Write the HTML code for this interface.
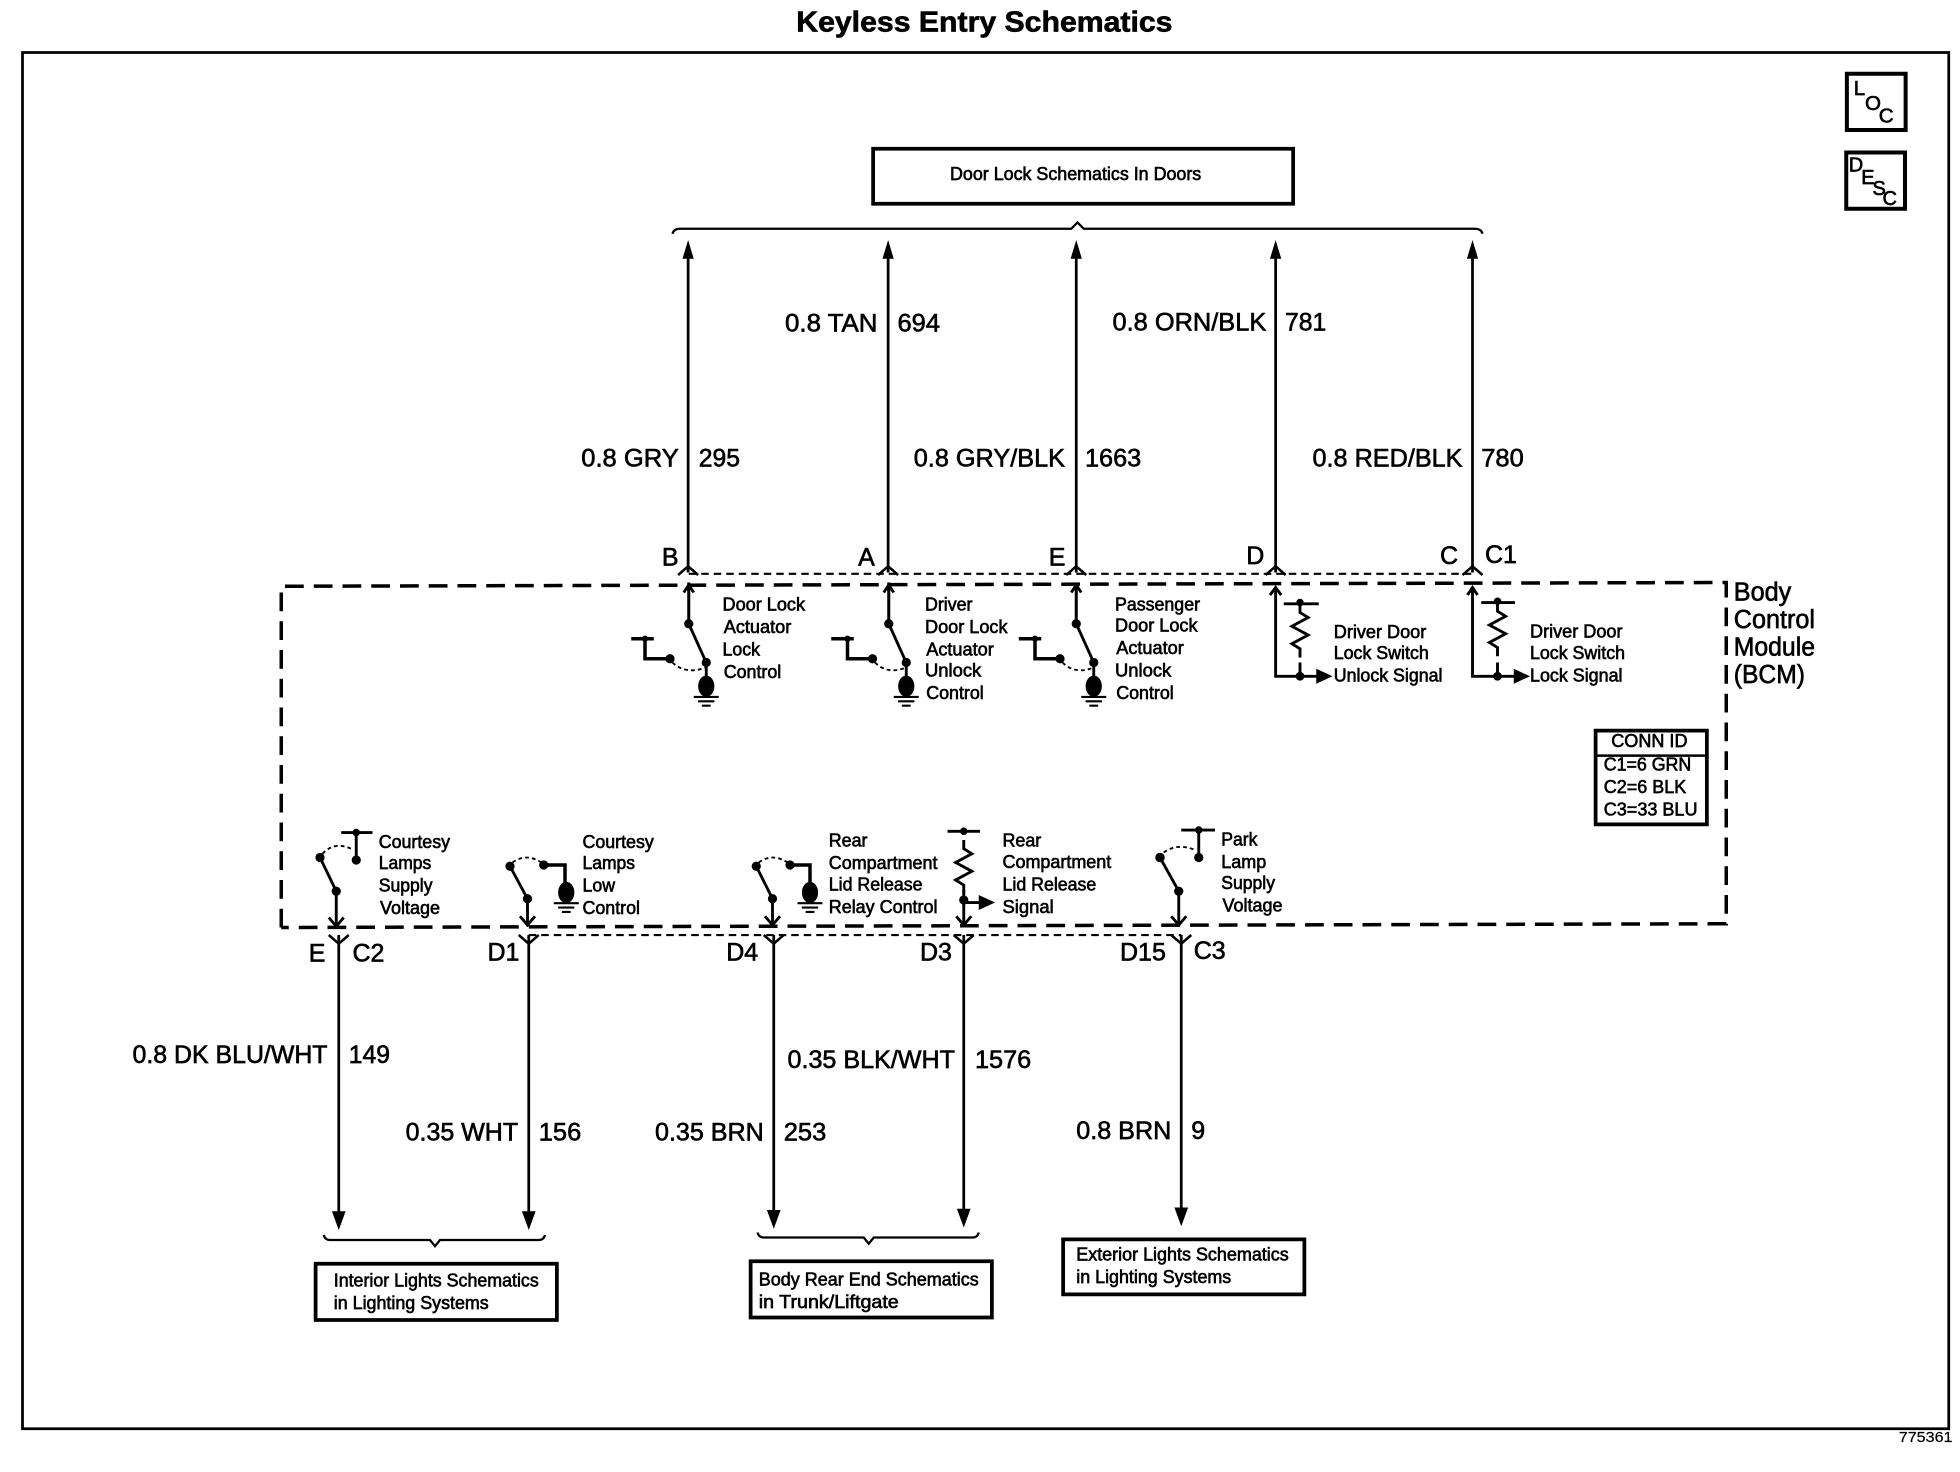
<!DOCTYPE html>
<html lang="en"><head><meta charset="utf-8"><title>Keyless Entry Schematics</title>
<style>html,body{margin:0;padding:0;background:#fff}svg{display:block}
text{font-family:"Liberation Sans",Arial,sans-serif;fill:#000;stroke:#000;stroke-width:.5}
</style></head><body>
<svg xmlns="http://www.w3.org/2000/svg" width="1960" height="1472" viewBox="0 0 1568 1177.6">
<defs>
<g id="gnd"><ellipse cx="0" cy="0" rx="6.500" ry="8.500" fill="#000"/><path d="M-10 8.500H10M-6.500 12H6.500M-3.500 15.500H3.500" stroke="#000" stroke-width="1.700" fill="none"/></g>
<path id="res" d="M0 0v7l6.500 4-13 7 13 7-13 7 6.500 4v7" fill="none" stroke="#000" stroke-width="2.300"/>
<path id="up" d="M-4.500 15L0 0L4.500 15Z" fill="#000"/>
<path id="dn" d="M-5.500 -15L0 0L5.500 -15Z" fill="#000"/>
<path id="fork" d="M-8 7L0 0L8 7" fill="none" stroke="#000" stroke-width="2"/>
<path id="forkd" d="M-8 -7L0 0L8 -7" fill="none" stroke="#000" stroke-width="2"/>
</defs>

<text x="637" y="25" font-size="23" font-weight="bold" textLength="301" lengthAdjust="spacingAndGlyphs">Keyless Entry Schematics</text>
<rect x="18" y="42" width="1541" height="1101" fill="none" stroke="#000" stroke-width="2.200"/>
<text x="1519" y="1153.500" font-size="11.500" textLength="43" lengthAdjust="spacingAndGlyphs" style="stroke-width:.15">775361</text>

<!-- LOC DESC -->
<rect x="1477.500" y="59" width="47" height="45" fill="none" stroke="#000" stroke-width="3.200"/>
<g font-size="16.500">
<text x="1483" y="76">L</text><text x="1492" y="88">O</text><text x="1503" y="98">C</text>
</g>
<rect x="1477" y="122" width="47" height="45" fill="none" stroke="#000" stroke-width="3.200"/>
<g font-size="16">
<text x="1479" y="137">D</text><text x="1489" y="147">E</text><text x="1498" y="156">S</text><text x="1506" y="164">C</text>
</g>

<!-- top box -->
<rect x="698.500" y="119" width="336" height="44" fill="none" stroke="#000" stroke-width="3"/>
<text x="760" y="144" font-size="14.500" textLength="201" lengthAdjust="spacingAndGlyphs">Door Lock Schematics In Doors</text>
<path d="M538 187Q539 183 544 183H857L862 178L867 183H1180Q1185 183 1186 187" fill="none" stroke="#000" stroke-width="1.800"/>

<!-- top wires -->
<g stroke="#000" stroke-width="2.200" fill="none">
<path d="M550.500 200V458M710.500 200V458M861 200V458M1020.500 200V458M1178 200V458"/>
<path d="M551 459H1178" stroke-width="1.700" stroke-dasharray="6 4"/>
<path d="M551 466V499M711 466V499M861 466V499"/>
</g>
<use href="#up" x="550.500" y="192"/><use href="#up" x="710.500" y="192"/><use href="#up" x="861" y="192"/><use href="#up" x="1020.500" y="192"/><use href="#up" x="1178" y="192"/>
<use href="#fork" x="550.500" y="453"/><use href="#fork" x="710.500" y="453"/><use href="#fork" x="861" y="453"/><use href="#fork" x="1020.500" y="453"/><use href="#fork" x="1178" y="453"/>

<!-- BCM dashed -->
<path d="M225 742V469L1381 466V739L225 742" fill="none" stroke="#000" stroke-width="2.800" stroke-dasharray="15 8"/>
<text x="1387" y="480.500" font-size="20.500" textLength="46" lengthAdjust="spacingAndGlyphs">Body</text>
<text x="1387" y="502.500" font-size="20.500" textLength="65" lengthAdjust="spacingAndGlyphs">Control</text>
<text x="1387" y="524.500" font-size="20.500" textLength="65" lengthAdjust="spacingAndGlyphs">Module</text>
<text x="1387" y="546.500" font-size="20.500" textLength="57" lengthAdjust="spacingAndGlyphs">(BCM)</text>

<!-- wire labels top -->
<g font-size="20" transform="translate(0,-.7)">
<text x="465" y="374" textLength="78" lengthAdjust="spacingAndGlyphs">0.8 GRY</text>
<text x="559" y="374" textLength="33" lengthAdjust="spacingAndGlyphs">295</text>
<text x="628" y="266" textLength="74" lengthAdjust="spacingAndGlyphs">0.8 TAN</text>
<text x="718" y="266" textLength="34" lengthAdjust="spacingAndGlyphs">694</text>
<text x="731" y="374" textLength="121" lengthAdjust="spacingAndGlyphs">0.8 GRY/BLK</text>
<text x="868" y="374" textLength="45" lengthAdjust="spacingAndGlyphs">1663</text>
<text x="890" y="265" textLength="123" lengthAdjust="spacingAndGlyphs">0.8 ORN/BLK</text>
<text x="1028" y="265" textLength="33" lengthAdjust="spacingAndGlyphs">781</text>
<text x="1050" y="374" textLength="120" lengthAdjust="spacingAndGlyphs">0.8 RED/BLK</text>
<text x="1185" y="374" textLength="34" lengthAdjust="spacingAndGlyphs">780</text>
<text x="529.500" y="453">B</text><text x="686.500" y="453">A</text><text x="839" y="453">E</text><text x="997" y="452">D</text><text x="1152" y="452">C</text><text x="1188" y="451">C1</text>
<text x="247" y="770">E</text><text x="282" y="770">C2</text><text x="390" y="769">D1</text><text x="581" y="769">D4</text><text x="736" y="769">D3</text><text x="896" y="769">D15</text><text x="955" y="768">C3</text>
<text x="106" y="851" textLength="156" lengthAdjust="spacingAndGlyphs">0.8 DK BLU/WHT</text>
<text x="279" y="851" textLength="33" lengthAdjust="spacingAndGlyphs">149</text>
<text x="324.500" y="913" textLength="90" lengthAdjust="spacingAndGlyphs">0.35 WHT</text>
<text x="431" y="913" textLength="34" lengthAdjust="spacingAndGlyphs">156</text>
<text x="524" y="913" textLength="87" lengthAdjust="spacingAndGlyphs">0.35 BRN</text>
<text x="627" y="913" textLength="34" lengthAdjust="spacingAndGlyphs">253</text>
<text x="630" y="855" textLength="134" lengthAdjust="spacingAndGlyphs">0.35 BLK/WHT</text>
<text x="780" y="855" textLength="45" lengthAdjust="spacingAndGlyphs">1576</text>
<text x="861" y="912" textLength="76" lengthAdjust="spacingAndGlyphs">0.8 BRN</text>
<text x="953" y="912">9</text>
</g>

<!-- lock switches -->
<g stroke="#000" fill="none" stroke-width="2.300">
<path d="M551 466V499L565 530V549"/>
<path d="M505 511H523M516 511V527H536" stroke-width="2.800"/>
<path d="M538 530Q548 540 565 534" stroke-width="1.500" stroke-dasharray="3 2.500"/>
<path d="M547 474L551 468L555 474"/>
</g>
<g fill="#000"><circle cx="551" cy="499" r="3.700"/><circle cx="565" cy="530" r="3.700"/><circle cx="536" cy="527" r="3.700"/><circle cx="516" cy="511" r="2.500"/></g>
<use href="#gnd" x="565" y="549"/>

<g stroke="#000" fill="none" stroke-width="2.300">
<path d="M711 466V499L725 530V549"/>
<path d="M665 511H683M678 511V527H698" stroke-width="2.800"/>
<path d="M700 530Q710 540 725 534" stroke-width="1.500" stroke-dasharray="3 2.500"/>
<path d="M707 474L711 468L715 474"/>
</g>
<g fill="#000"><circle cx="711" cy="499" r="3.700"/><circle cx="725" cy="530" r="3.700"/><circle cx="698" cy="527" r="3.700"/><circle cx="678" cy="511" r="2.500"/></g>
<use href="#gnd" x="725" y="549"/>

<g stroke="#000" fill="none" stroke-width="2.300">
<path d="M861 466V499L875 530V549"/>
<path d="M815 511H833M828 511V527H848" stroke-width="2.800"/>
<path d="M850 530Q860 540 875 534" stroke-width="1.500" stroke-dasharray="3 2.500"/>
<path d="M857 474L861 468L865 474"/>
</g>
<g fill="#000"><circle cx="861" cy="499" r="3.700"/><circle cx="875" cy="530" r="3.700"/><circle cx="848" cy="527" r="3.700"/><circle cx="828" cy="511" r="2.500"/></g>
<use href="#gnd" x="875" y="549"/>

<g font-size="14.500" transform="translate(0,-.7)">
<text x="578" y="489" textLength="66" lengthAdjust="spacingAndGlyphs">Door Lock</text>
<text x="579" y="507" textLength="54" lengthAdjust="spacingAndGlyphs">Actuator</text>
<text x="578" y="525" textLength="30" lengthAdjust="spacingAndGlyphs">Lock</text>
<text x="579" y="543" textLength="46" lengthAdjust="spacingAndGlyphs">Control</text>
<text x="740" y="489" textLength="38" lengthAdjust="spacingAndGlyphs">Driver</text>
<text x="740" y="507" textLength="66" lengthAdjust="spacingAndGlyphs">Door Lock</text>
<text x="741" y="525" textLength="54" lengthAdjust="spacingAndGlyphs">Actuator</text>
<text x="740" y="542" textLength="45" lengthAdjust="spacingAndGlyphs">Unlock</text>
<text x="741" y="560" textLength="46" lengthAdjust="spacingAndGlyphs">Control</text>
<text x="892" y="489" textLength="68" lengthAdjust="spacingAndGlyphs">Passenger</text>
<text x="892" y="506" textLength="66" lengthAdjust="spacingAndGlyphs">Door Lock</text>
<text x="893" y="524" textLength="54" lengthAdjust="spacingAndGlyphs">Actuator</text>
<text x="892" y="542" textLength="45" lengthAdjust="spacingAndGlyphs">Unlock</text>
<text x="893" y="560" textLength="46" lengthAdjust="spacingAndGlyphs">Control</text>
<text x="1067" y="511" textLength="74" lengthAdjust="spacingAndGlyphs">Driver Door</text>
<text x="1067" y="528" textLength="76" lengthAdjust="spacingAndGlyphs">Lock Switch</text>
<text x="1067" y="546" textLength="87" lengthAdjust="spacingAndGlyphs">Unlock Signal</text>
<text x="1224" y="510.500" textLength="74" lengthAdjust="spacingAndGlyphs">Driver Door</text>
<text x="1224" y="528" textLength="76" lengthAdjust="spacingAndGlyphs">Lock Switch</text>
<text x="1224" y="546" textLength="74" lengthAdjust="spacingAndGlyphs">Lock Signal</text>
</g>

<!-- D and C resistors -->
<g stroke="#000" fill="none" stroke-width="2.300">
<path d="M1020.500 470V541H1056M1016 476L1020.500 470L1025 476"/>
<path d="M1027 483H1055"/>
<path d="M1178 470V541H1214M1174 476L1178 470L1182 476"/>
<path d="M1185 482H1212"/>
</g>
<use href="#res" x="1040" y="483"/><use href="#res" x="1198" y="482"/>
<path d="M1040 530V541M1198 530V541" stroke="#000" stroke-width="2.300"/>
<g fill="#000"><circle cx="1040" cy="482" r="3"/><circle cx="1040" cy="541" r="3.500"/><circle cx="1198" cy="481" r="3"/><circle cx="1198" cy="541" r="3.500"/>
<path d="M1053 535L1066 541L1053 547Z"/><path d="M1211 535L1224 541L1211 547Z"/></g>

<!-- CONN ID -->
<rect x="1276.500" y="584.500" width="89" height="75" fill="none" stroke="#000" stroke-width="3"/>
<path d="M1276 604.500H1366" stroke="#000" stroke-width="2"/>
<g font-size="14.500" transform="translate(0,-.5)">
<text x="1289" y="598" textLength="61" lengthAdjust="spacingAndGlyphs">CONN ID</text>
<text x="1283" y="617" textLength="70" lengthAdjust="spacingAndGlyphs">C1=6 GRN</text>
<text x="1283" y="635" textLength="66" lengthAdjust="spacingAndGlyphs">C2=6 BLK</text>
<text x="1283" y="653" textLength="75" lengthAdjust="spacingAndGlyphs">C3=33 BLU</text>
</g>

<!-- bottom switches -->
<g stroke="#000" fill="none" stroke-width="2.300">
<path d="M273 666H298M285 666V688"/>
<path d="M256 686L269 713V742"/>
<path d="M258 683Q268 672 283 680" stroke-width="1.500" stroke-dasharray="3 2.500"/>
<path d="M263 734L269 741L275 734"/>

<path d="M408 693L422 719V741"/>
<path d="M410 690Q421 682 433 690" stroke-width="1.500" stroke-dasharray="3 2.500"/>
<path d="M435 692H452V714" stroke-width="2.800"/>
<path d="M416 733L422 740L428 733"/>

<path d="M605 693L618 719V741"/>
<path d="M607 690Q618 682 630 690" stroke-width="1.500" stroke-dasharray="3 2.500"/>
<path d="M632 692H648V714" stroke-width="2.800"/>
<path d="M612 733L618 740L624 733"/>

<path d="M758 665H784"/>
<path d="M771 712V741M765 733L771 740L777 733M771 722H785"/>

<path d="M945 664H972M959 664V686"/>
<path d="M928 686L943 713V741"/>
<path d="M931 682Q942 674 956 680" stroke-width="1.500" stroke-dasharray="3 2.500"/>
<path d="M937 733L943 740L949 733"/>
</g>
<use href="#res" x="771" y="672"/>
<g fill="#000">
<circle cx="285" cy="666" r="3"/><circle cx="285" cy="688" r="3.700"/><circle cx="256" cy="686" r="3.700"/><circle cx="269" cy="713" r="3.700"/>
<circle cx="408" cy="693" r="3.700"/><circle cx="435" cy="692" r="3.700"/><circle cx="422" cy="719" r="3.700"/>
<circle cx="605" cy="693" r="3.700"/><circle cx="632" cy="692" r="3.700"/><circle cx="618" cy="719" r="3.700"/>
<circle cx="771" cy="665" r="3"/><circle cx="771" cy="720" r="3.700"/><path d="M783 716L796 722L783 728Z"/>
<circle cx="959" cy="664" r="3"/><circle cx="959" cy="686" r="3.700"/><circle cx="928" cy="686" r="3.800"/><circle cx="943" cy="713" r="3.700"/>
</g>
<use href="#gnd" x="453" y="714"/><use href="#gnd" x="648" y="714"/>

<g font-size="14.500" transform="translate(0,-.7)">
<text x="303" y="679" textLength="57" lengthAdjust="spacingAndGlyphs">Courtesy</text>
<text x="303" y="696" textLength="42" lengthAdjust="spacingAndGlyphs">Lamps</text>
<text x="303" y="714" textLength="43" lengthAdjust="spacingAndGlyphs">Supply</text>
<text x="304" y="732" textLength="48" lengthAdjust="spacingAndGlyphs">Voltage</text>
<text x="466" y="679" textLength="57" lengthAdjust="spacingAndGlyphs">Courtesy</text>
<text x="466" y="696" textLength="42" lengthAdjust="spacingAndGlyphs">Lamps</text>
<text x="466" y="714" textLength="26" lengthAdjust="spacingAndGlyphs">Low</text>
<text x="466" y="732" textLength="46" lengthAdjust="spacingAndGlyphs">Control</text>
<text x="663" y="678" textLength="31" lengthAdjust="spacingAndGlyphs">Rear</text>
<text x="663" y="696" textLength="87" lengthAdjust="spacingAndGlyphs">Compartment</text>
<text x="663" y="713" textLength="75" lengthAdjust="spacingAndGlyphs">Lid Release</text>
<text x="663" y="731" textLength="87" lengthAdjust="spacingAndGlyphs">Relay Control</text>
<text x="802" y="678" textLength="31" lengthAdjust="spacingAndGlyphs">Rear</text>
<text x="802" y="695" textLength="87" lengthAdjust="spacingAndGlyphs">Compartment</text>
<text x="802" y="713" textLength="75" lengthAdjust="spacingAndGlyphs">Lid Release</text>
<text x="802" y="731" textLength="41" lengthAdjust="spacingAndGlyphs">Signal</text>
<text x="977" y="677" textLength="29" lengthAdjust="spacingAndGlyphs">Park</text>
<text x="977" y="695" textLength="36" lengthAdjust="spacingAndGlyphs">Lamp</text>
<text x="977" y="712" textLength="43" lengthAdjust="spacingAndGlyphs">Supply</text>
<text x="978" y="730" textLength="48" lengthAdjust="spacingAndGlyphs">Voltage</text>
</g>

<!-- bottom wires -->
<g stroke="#000" stroke-width="2.200" fill="none">
<path d="M271 748V970M423 748V970M619 748V970M771 748V970M945 748V968"/>
<path d="M423 748H945" stroke-width="1.700" stroke-dasharray="6 4"/>
</g>
<use href="#forkd" x="271" y="755"/><use href="#forkd" x="423" y="755"/><use href="#forkd" x="619" y="755"/><use href="#forkd" x="771" y="755"/><use href="#forkd" x="945" y="755"/>
<use href="#dn" x="271" y="984"/><use href="#dn" x="423" y="984"/><use href="#dn" x="619" y="983"/><use href="#dn" x="771" y="982"/><use href="#dn" x="945" y="981"/>

<path d="M259 988Q260 992 264 992H344L348 997L352 992H431Q435 992 436 988" fill="none" stroke="#000" stroke-width="1.800"/>
<path d="M606 986Q607 990 611 990H691L695 995L699 990H778Q782 990 783 986" fill="none" stroke="#000" stroke-width="1.800"/>

<rect x="252.500" y="1011" width="193" height="45" fill="none" stroke="#000" stroke-width="3"/>
<rect x="600.500" y="1009" width="193" height="45" fill="none" stroke="#000" stroke-width="3"/>
<rect x="850.500" y="991.500" width="193" height="44" fill="none" stroke="#000" stroke-width="3"/>
<g font-size="14.500" transform="translate(0,-.7)">
<text x="267" y="1030" textLength="164" lengthAdjust="spacingAndGlyphs">Interior Lights Schematics</text>
<text x="267" y="1048" textLength="124" lengthAdjust="spacingAndGlyphs">in Lighting Systems</text>
<text x="607" y="1029" textLength="176" lengthAdjust="spacingAndGlyphs">Body Rear End Schematics</text>
<text x="607" y="1047" textLength="112" lengthAdjust="spacingAndGlyphs">in Trunk/Liftgate</text>
<text x="861" y="1009" textLength="170" lengthAdjust="spacingAndGlyphs">Exterior Lights Schematics</text>
<text x="861" y="1027" textLength="124" lengthAdjust="spacingAndGlyphs">in Lighting Systems</text>
</g>
</svg>
</body></html>
